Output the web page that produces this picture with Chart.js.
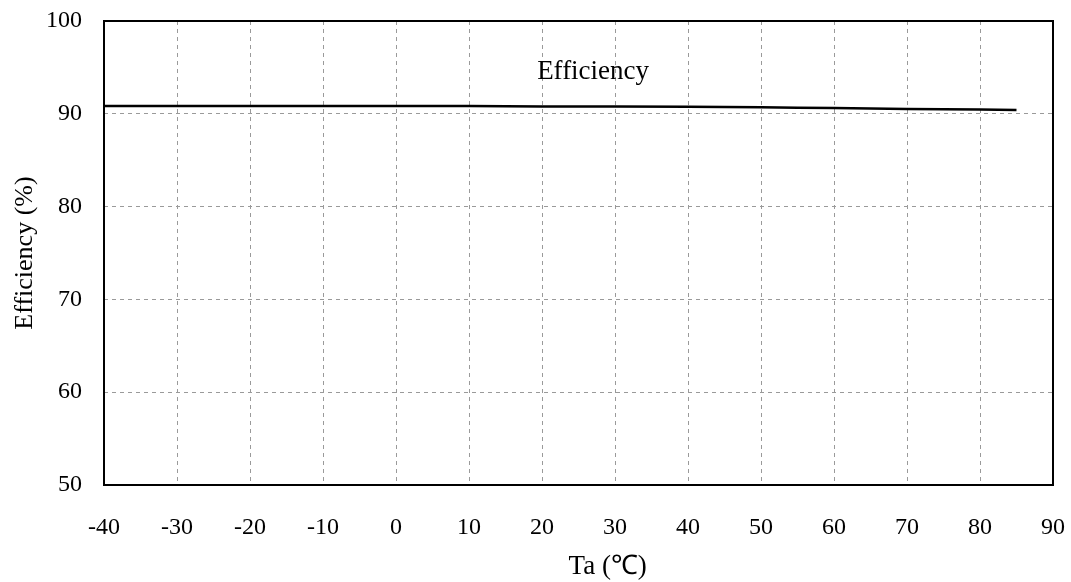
<!DOCTYPE html>
<html>
<head>
<meta charset="utf-8">
<script src="https://cdn.jsdelivr.net/npm/chart.js@4"></script>
<style>
  html, body { margin: 0; padding: 0; background: #fff; }
  #wrap { width: 1071px; height: 582px; }
</style>
</head>
<body>
<div id="wrap"><canvas id="effChart" width="1071" height="582"></canvas></div>
<script>
// ---- data ----
const temps = [-40, -20, 0, 20, 40, 50, 60, 70, 80, 85];
const efficiency = [90.85, 90.85, 90.85, 90.8, 90.75, 90.7, 90.62, 90.52, 90.45, 90.4];
const xTicks = [-40, -30, -20, -10, 0, 10, 20, 30, 40, 50, 60, 70, 80, 90];
const yTicks = [50, 60, 70, 80, 90, 100];
const seriesLabel = "Efficiency";
const labelPos = { x: 27, y: 94.5 };
const xTitle = "Ta (℃)";
const xTitlePos = 29;

const FONT = "'Liberation Serif', 'Times New Roman', serif";

// frame round the plot, series name inside, x title under the axis
const framePlugin = {
    id: "frame",
    afterDraw(chart) {
        const c = chart.ctx;
        const a = chart.chartArea;
        c.save();
        c.strokeStyle = "#000";
        c.lineWidth = 2;
        c.strokeRect(a.left, a.top, a.right - a.left, a.bottom - a.top);
        c.fillStyle = "#000";
        c.textAlign = "center";
        c.textBaseline = "middle";
        c.font = "27px " + FONT;
        c.fillText(
            seriesLabel,
            chart.scales.x.getPixelForValue(labelPos.x),
            chart.scales.y.getPixelForValue(labelPos.y)
        );
        c.fillText(xTitle, chart.scales.x.getPixelForValue(xTitlePos), 567);
        c.restore();
    }
};

// keep the plot box where the picture has it
function fixX(s) {
    s.height = 97;
    s.paddingLeft = 0;
    s.paddingRight = 0;
}
function fixY(s) {
    s.width = 104;
    s.paddingTop = 0;
    s.paddingBottom = 0;
}

new Chart(document.getElementById("effChart"), {
    type: "line",
    data: {
        datasets: [{
            label: seriesLabel,
            data: temps.map((t, i) => ({ x: t, y: efficiency[i] })),
            borderColor: "#000",
            borderWidth: 2.5,
            pointRadius: 0,
            tension: 0.3,
            fill: false
        }]
    },
    options: {
        responsive: false,
        animation: false,
        layout: { padding: { top: 21, right: 18, left: 0, bottom: 0 } },
        plugins: {
            legend: { display: false },
            tooltip: { enabled: false }
        },
        scales: {
            x: {
                type: "linear",
                min: -40,
                max: 90,
                afterBuildTicks: s => { s.ticks = xTicks.map(v => ({ value: v })); },
                afterFit: fixX,
                grid: { color: "#9a9a9a", lineWidth: 1, drawTicks: false },
                border: { display: false, dash: [4, 4] },
                ticks: { color: "#000", font: { family: FONT, size: 24 }, padding: 28, maxRotation: 0 }
            },
            y: {
                min: 50,
                max: 100,
                afterBuildTicks: s => { s.ticks = yTicks.map(v => ({ value: v })); },
                afterFit: fixY,
                grid: { color: "#9a9a9a", lineWidth: 1, drawTicks: false },
                border: { display: false, dash: [4, 4] },
                ticks: { color: "#000", font: { family: FONT, size: 24 }, padding: 22 },
                title: {
                    display: true,
                    text: "Efficiency (%)",
                    color: "#000",
                    font: { family: FONT, size: 26 },
                    padding: { top: 10, bottom: 0 }
                }
            }
        }
    },
    plugins: [framePlugin]
});
</script>
</body>
</html>
